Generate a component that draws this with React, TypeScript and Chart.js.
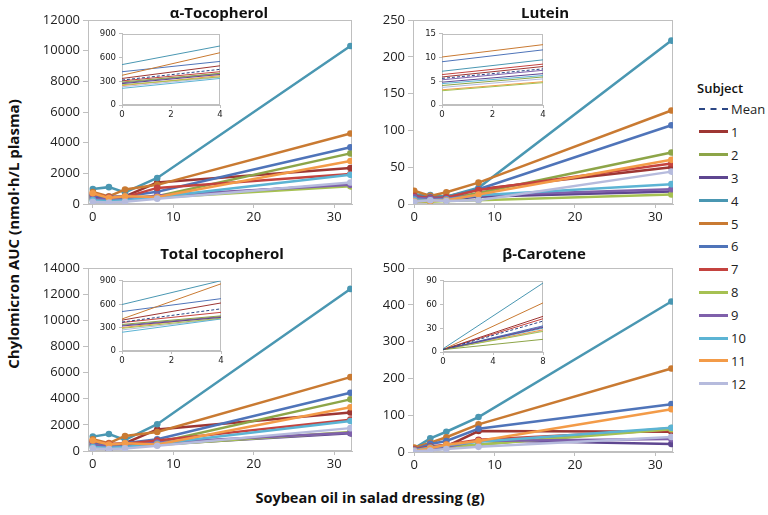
import React, { useEffect, useRef } from "react";
import { Chart, registerables } from "chart.js";
Chart.register(...registerables);

// ---------- data ----------
const doses = [0, 2, 4, 8, 32];
const insetDoses = [0, 4];
const betaInsetDoses = [0, 8];
const subjectLabels = ["1", "2", "3", "4", "5", "6", "7", "8", "9", "10", "11", "12"];
const legendLabels = ["Mean", ...subjectLabels];
const subjectColors = [
  "#9E3633", "#8DA548", "#5E4690", "#4A97B2", "#C97A32", "#4F74B9",
  "#C4433F", "#A6C152", "#7F60AB", "#5CB4D4", "#F39B48", "#B6BBDD",
];
const meanColor = "#2C4785";

const panelTitles = ["α-Tocopherol", "Lutein", "Total tocopherol", "β-Carotene"];
const xTicksMain = [0, 10, 20, 30];

// AUC per subject (rows: subjects 1..12; columns: doses)
const alphaTocValues = [
  [550, 400, 500, 1400, 2350],
  [450, 350, 400, 500, 3300],
  [400, 300, 350, 450, 1300],
  [980, 1100, 750, 1700, 10300],
  [780, 500, 950, 1250, 4600],
  [550, 450, 500, 800, 3700],
  [650, 450, 450, 1050, 1950],
  [300, 250, 300, 400, 1150],
  [350, 300, 300, 550, 1250],
  [250, 200, 250, 450, 1900],
  [700, 400, 500, 450, 2800],
  [150, 100, 150, 350, 1400],
];
const luteinValues = [
  [12, 10, 10, 20, 50],
  [8, 7, 7, 15, 70],
  [7, 6, 6, 10, 17],
  [13, 12, 10, 22, 222],
  [18, 11, 16, 29, 127],
  [10, 9, 8, 20, 107],
  [11, 8, 9, 19, 55],
  [3, 3, 4, 5, 13],
  [9, 7, 7, 12, 20],
  [6, 5, 6, 12, 27],
  [4, 4, 5, 13, 60],
  [3, 5, 4, 5, 44],
];
const totalTocValues = [
  [700, 450, 600, 1650, 2950],
  [550, 450, 500, 650, 3950],
  [450, 100, 400, 500, 1350],
  [1100, 1300, 850, 2050, 12400],
  [900, 600, 1150, 1450, 5650],
  [650, 500, 600, 900, 4450],
  [750, 550, 550, 800, 2400],
  [350, 300, 350, 450, 1450],
  [450, 350, 350, 650, 1400],
  [300, 250, 300, 550, 2300],
  [800, 500, 600, 500, 3350],
  [200, 150, 200, 400, 1750],
];
const betaCarValues = [
  [5, 8, 15, 57, 55],
  [4, 6, 10, 20, 65],
  [8, 12, 15, 32, 22],
  [10, 37, 55, 95, 409],
  [12, 25, 40, 75, 227],
  [6, 22, 30, 63, 130],
  [7, 15, 20, 33, 60],
  [3, 10, 15, 20, 62],
  [6, 10, 14, 30, 35],
  [4, 12, 18, 28, 66],
  [3, 10, 20, 30, 116],
  [2, 4, 8, 14, 41],
];

// Inset fitted lines (order: Mean, 1..12)
const alphaTocFitStart = [315, 335, 290, 270, 510, 375, 420, 305, 255, 280, 210, 245, 230];
const alphaTocFitEnd = [450, 495, 400, 385, 745, 660, 550, 420, 355, 395, 335, 370, 350];
const luteinFitStart = [5.6, 5.9, 4.1, 4.8, 7.1, 10.1, 9.1, 6.4, 3.0, 5.3, 4.5, 3.2, 3.7];
const luteinFitEnd = [7.6, 8.1, 5.9, 6.6, 9.5, 12.7, 11.6, 8.6, 4.7, 7.3, 6.2, 4.9, 5.5];
const totalTocFitStart = [370, 395, 340, 320, 595, 410, 505, 365, 290, 330, 240, 300, 270];
const totalTocFitEnd = [540, 615, 450, 430, 900, 860, 670, 495, 420, 440, 410, 440, 415];
const betaCarFitStart = [3, 3, 3, 3, 4, 3, 3, 3, 3, 3, 3, 3, 3];
const betaCarFitEnd = [39, 45, 16, 31, 87, 62, 33, 42, 26, 32, 30, 28, 27];

// ---------- layout ----------
type Box = { l: number; t: number; w: number; h: number };
type Area = { l: number; t: number; r: number; b: number };

const gridColor = "#BFBFBF";
const mainFont = { family: '"Open Sans", sans-serif', size: 13 };
const insetFont = { family: '"DejaVu Sans Condensed", "Liberation Sans Narrow", sans-serif', size: 9.5 };

const framePlugin = {
  id: "frame",
  beforeDraw(chart: any, _a: any, opts: any) {
    const { ctx, chartArea: a } = chart;
    if (opts && opts.fill) {
      ctx.save();
      ctx.fillStyle = opts.fill;
      ctx.fillRect(a.left, a.top, a.right - a.left, a.bottom - a.top);
      ctx.restore();
    }
  },
  beforeDatasetsDraw(chart: any) {
    const { ctx, chartArea: a } = chart;
    ctx.save();
    ctx.strokeStyle = gridColor;
    ctx.lineWidth = 1;
    ctx.strokeRect(
      Math.round(a.left) + 0.5,
      Math.round(a.top) + 0.5,
      Math.round(a.right - a.left) - 1,
      Math.round(a.bottom - a.top) - 1
    );
    ctx.restore();
  },
};

function mainConfig(values: number[][], yMax: number, yStep: number, c: Box, p: Area, xMin: number): any {
  return {
    type: "line",
    data: {
      datasets: values.map((row, i) => ({
        label: subjectLabels[i],
        data: row.map((v, j) => ({ x: doses[j], y: v })),
        borderColor: subjectColors[i],
        backgroundColor: subjectColors[i],
        pointBackgroundColor: subjectColors[i],
        pointBorderColor: subjectColors[i],
        borderWidth: 2.5,
        pointRadius: 3.3,
        pointBorderWidth: 0,
        tension: 0,
        fill: false,
      })).reverse(),
    },
    options: {
      responsive: false,
      animation: false,
      events: [],
      layout: { padding: { top: p.t - c.t, right: c.l + c.w - p.r, left: 0, bottom: 0 } },
      plugins: { legend: { display: false }, tooltip: { enabled: false }, title: { display: false } },
      scales: {
        x: {
          type: "linear",
          min: xMin,
          max: 32.2,
          afterBuildTicks: (s: any) => { s.ticks = xTicksMain.map((v) => ({ value: v })); },
          afterFit: (s: any) => { s.height = c.t + c.h - p.b; },
          grid: { drawOnChartArea: false, drawTicks: true, tickLength: 4, color: gridColor },
          border: { display: true, color: gridColor },
          ticks: { font: mainFont, color: "#222", padding: 1, maxRotation: 0, autoSkip: false, callback: (v: any) => String(v) },
        },
        y: {
          type: "linear",
          min: 0,
          max: yMax,
          afterFit: (s: any) => { s.width = p.l - c.l; },
          grid: { drawOnChartArea: false, drawTicks: true, tickLength: 5, color: gridColor },
          border: { display: true, color: gridColor },
          ticks: { stepSize: yStep, font: mainFont, color: "#222", padding: 3, callback: (v: any) => String(v) },
        },
      },
    },
    plugins: [framePlugin],
  };
}

function insetConfig(starts: number[], ends: number[], xs: number[], yMax: number, yStep: number, c: Box, p: Area): any {
  const colors = [meanColor, ...subjectColors];
  return {
    type: "line",
    data: {
      datasets: starts.map((s, i) => ({
        label: legendLabels[i],
        data: [{ x: xs[0], y: s }, { x: xs[1], y: ends[i] }],
        borderColor: colors[i],
        borderWidth: 1,
        borderDash: i === 0 ? [3, 2] : [],
        pointRadius: 0,
        tension: 0,
        fill: false,
      })),
    },
    options: {
      responsive: false,
      animation: false,
      events: [],
      layout: { padding: { top: p.t - c.t, right: c.l + c.w - p.r, left: 0, bottom: 0 } },
      plugins: { legend: { display: false }, tooltip: { enabled: false }, title: { display: false }, frame: { fill: "#FFFFFF" } },
      scales: {
        x: {
          type: "linear",
          min: xs[0],
          max: xs[1],
          afterFit: (s: any) => { s.height = c.t + c.h - p.b; },
          grid: { drawOnChartArea: false, drawTicks: true, tickLength: 3, color: gridColor },
          border: { display: true, color: gridColor },
          ticks: { stepSize: xs[1] / 2, font: insetFont, color: "#222", padding: 1, maxRotation: 0, callback: (v: any) => String(v) },
        },
        y: {
          type: "linear",
          min: 0,
          max: yMax,
          afterFit: (s: any) => { s.width = p.l - c.l; },
          grid: { drawOnChartArea: false, drawTicks: true, tickLength: 3, color: gridColor },
          border: { display: true, color: gridColor },
          ticks: { stepSize: yStep, font: insetFont, color: "#222", padding: 3, callback: (v: any) => String(v) },
        },
      },
    },
    plugins: [framePlugin],
  };
}

const mainBoxes: Box[] = [
  { l: 30, t: 0, w: 330, h: 230 },
  { l: 360, t: 0, w: 320, h: 230 },
  { l: 30, t: 245, w: 330, h: 230 },
  { l: 360, t: 245, w: 320, h: 230 },
];
const mainAreas: Area[] = [
  { l: 88, t: 20, r: 352, b: 204 },
  { l: 413, t: 20, r: 673, b: 204 },
  { l: 88, t: 268, r: 352, b: 451 },
  { l: 413, t: 268, r: 673, b: 452 },
];
const insetBoxes: Box[] = [
  { l: 92, t: 25, w: 133, h: 100 },
  { l: 412, t: 25, w: 136, h: 100 },
  { l: 92, t: 272, w: 134, h: 101 },
  { l: 412, t: 272, w: 136, h: 101 },
];
const insetAreas: Area[] = [
  { l: 122, t: 33, r: 220, b: 105 },
  { l: 442, t: 33, r: 543, b: 105 },
  { l: 122, t: 280, r: 221, b: 351 },
  { l: 443, t: 280, r: 543, b: 352 },
];
const titlePos = [
  { x: 219, y: 12 },
  { x: 545, y: 12 },
  { x: 222, y: 253 },
  { x: 544, y: 253 },
];

export default function App() {
  const mainRefs = [useRef<HTMLCanvasElement>(null), useRef<HTMLCanvasElement>(null), useRef<HTMLCanvasElement>(null), useRef<HTMLCanvasElement>(null)];
  const insetRefs = [useRef<HTMLCanvasElement>(null), useRef<HTMLCanvasElement>(null), useRef<HTMLCanvasElement>(null), useRef<HTMLCanvasElement>(null)];

  useEffect(() => {
    const charts: Chart[] = [];
    const mainCfgs = [
      mainConfig(alphaTocValues, 12000, 2000, mainBoxes[0], mainAreas[0], -0.6),
      mainConfig(luteinValues, 250, 50, mainBoxes[1], mainAreas[1], -0.15),
      mainConfig(totalTocValues, 14000, 2000, mainBoxes[2], mainAreas[2], -0.6),
      mainConfig(betaCarValues, 500, 100, mainBoxes[3], mainAreas[3], -0.15),
    ];
    const insetCfgs = [
      insetConfig(alphaTocFitStart, alphaTocFitEnd, insetDoses, 900, 300, insetBoxes[0], insetAreas[0]),
      insetConfig(luteinFitStart, luteinFitEnd, insetDoses, 15, 5, insetBoxes[1], insetAreas[1]),
      insetConfig(totalTocFitStart, totalTocFitEnd, insetDoses, 900, 300, insetBoxes[2], insetAreas[2]),
      insetConfig(betaCarFitStart, betaCarFitEnd, betaInsetDoses, 90, 30, insetBoxes[3], insetAreas[3]),
    ];
    mainRefs.forEach((r, i) => { if (r.current) charts.push(new Chart(r.current, mainCfgs[i])); });
    insetRefs.forEach((r, i) => { if (r.current) charts.push(new Chart(r.current, insetCfgs[i])); });
    return () => charts.forEach((c) => c.destroy());
  }, []);

  const boldFont = '"Open Sans", sans-serif';

  return (
    <div style={{ position: "fixed", left: 0, top: 0, width: 768, height: 515, background: "#fff", overflow: "hidden", fontFamily: boldFont }}>
      {mainBoxes.map((b, i) => (
        <canvas key={"m" + i} ref={mainRefs[i]} width={b.w} height={b.h} style={{ position: "absolute", left: b.l, top: b.t, width: b.w, height: b.h, zIndex: 1 }} />
      ))}
      {insetBoxes.map((b, i) => (
        <canvas key={"i" + i} ref={insetRefs[i]} width={b.w} height={b.h} style={{ position: "absolute", left: b.l, top: b.t, width: b.w, height: b.h, zIndex: 2 }} />
      ))}
      {panelTitles.map((t, i) => (
        <div key={"t" + i} style={{ position: "absolute", left: titlePos[i].x, top: titlePos[i].y, transform: "translate(-50%, -50%)", fontWeight: 700, fontSize: 15, color: "#111", whiteSpace: "nowrap", zIndex: 3 }}>{t}</div>
      ))}
      <div style={{ position: "absolute", left: 13, top: 234, transform: "translate(-50%, -50%) rotate(-90deg)", fontWeight: 700, fontSize: 15, color: "#111", whiteSpace: "nowrap", zIndex: 3 }}>
        Chylomicron AUC (nmol·h/L plasma)
      </div>
      <div style={{ position: "absolute", left: 370, top: 497, transform: "translate(-50%, -50%)", fontWeight: 700, fontSize: 14.5, color: "#111", whiteSpace: "nowrap", zIndex: 3 }}>
        Soybean oil in salad dressing (g)
      </div>
      <div style={{ position: "absolute", left: 697, top: 88, transform: "translateY(-50%)", fontWeight: 600, fontSize: 13, color: "#111", zIndex: 3 }}>Subject</div>
      {legendLabels.map((lab, i) => {
        const y = 109 + i * 22.9;
        const color = i === 0 ? meanColor : subjectColors[i - 1];
        return (
          <div key={"l" + i} style={{ position: "absolute", left: 699, top: y, transform: "translateY(-50%)", display: "flex", alignItems: "center", zIndex: 3 }}>
            <div style={{ width: 29, height: 0, borderTop: i === 0 ? `2.5px dashed ${color}` : `3px solid ${color}` }} />
            <span style={{ marginLeft: 3, fontSize: 13, color: "#222", lineHeight: "16px" }}>{lab}</span>
          </div>
        );
      })}
    </div>
  );
}
